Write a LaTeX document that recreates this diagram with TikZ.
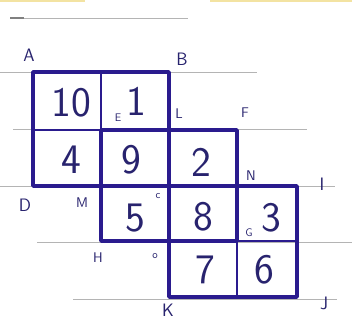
\documentclass[tikz,border=0pt]{standalone}
\usepackage{fontspec}
\usepackage{tikz}
\definecolor{ink}{HTML}{2A1B8E}
\definecolor{pencil}{HTML}{28236E}
\definecolor{ruled}{HTML}{B4B4B4}
\definecolor{tape}{HTML}{F3E3A2}

\begin{document}
\begin{tikzpicture}[x=1pt,y=-1pt,
  digit/.style={font=\sffamily\fontsize{42}{42}\selectfont,text=pencil},
  corner/.style={font=\sffamily\fontsize{18}{18}\selectfont,text=pencil},
  minor/.style={font=\sffamily\fontsize{14}{14}\selectfont,text=pencil},
  tiny/.style={font=\sffamily\fontsize{11}{11}\selectfont,text=pencil},
  outline/.style={ink,line width=3.4pt,line join=round},
  inner/.style={ink,line width=1.8pt}]
  \useasboundingbox (0,0) rectangle (352,320);
  % ruled paper
  \fill[tape] (0,0) rectangle (85,2.5);
  \fill[tape] (210,0) rectangle (352,2.5);
  \draw[ruled] (10,18) -- (188,18);
  \draw[gray,line width=2pt] (10,18) -- (24,18);
  \draw[ruled] (0,72) -- (257,72);
  \draw[ruled] (13,129) -- (307,129);
  \draw[ruled] (0,186) -- (335,186);
  \draw[ruled] (37,242) -- (352,242);
  \draw[ruled] (73,299) -- (337,299);
  % three squares
  \draw[inner] (101,72) -- (101,130);
  \draw[inner] (33,130) -- (101,130);
  \draw[inner] (101,186) -- (169,186);
  \draw[inner] (237,186) -- (237,297);
  \draw[inner] (169,241) -- (297,241);
  \draw[outline] (33,72) rectangle (169,186);
  \draw[outline] (101,130) rectangle (237,241);
  \draw[outline] (169,186) rectangle (297,297);
  % numbers
  \foreach \val/\x/\y in {10/71/103, 1/136/101, 4/71/160, 9/131/160,
      2/201/162, 5/135/218, 8/203/217, 3/271/218, 7/205/270, 6/264/270}
    \node[digit] (n\val) at (\x,\y) {\val};
  % corner letters
  \node[corner] (lA) at (29,55) {A};
  \node[corner] (lB) at (182,59) {B};
  \node[tiny] (lE) at (118,118) {E};
  \node[minor] (lL) at (179,114) {L};
  \node[minor] (lF) at (245,113) {F};
  \node[minor] (lN) at (251,176) {N};
  \node[corner] (lI) at (322,184) {I};
  \node[corner] (lD) at (25,205) {D};
  \node[minor] (lM) at (82,203) {M};
  \node[tiny] (lC) at (158,196) {c};
  \node[tiny] (lG) at (249,233) {G};
  \node[minor] (lH) at (98,258) {H};
  \node[tiny] (lO) at (155,256) {o};
  \node[corner] (lK) at (168,310) {K};
  \node[corner] (lJ) at (324,303) {J};
\end{tikzpicture}
\end{document}
